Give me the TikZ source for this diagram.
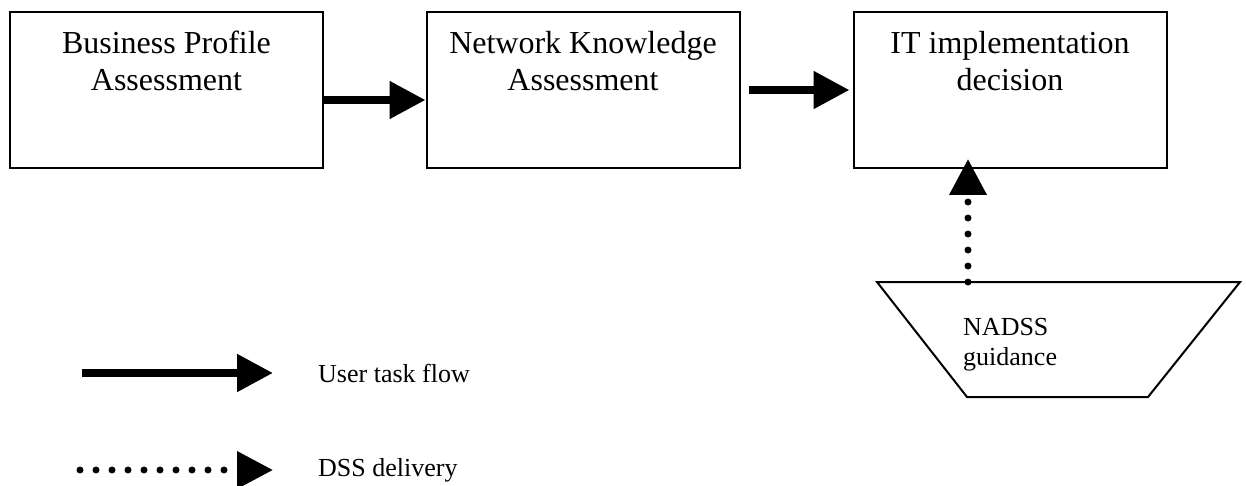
\documentclass[tikz,border=0pt]{standalone}
\usepackage{fontspec}
\setmainfont{Liberation Serif}
\usetikzlibrary{arrows.meta,positioning}

\begin{document}
\begin{tikzpicture}[x=1pt,y=-1pt,line join=miter,
	>={Triangle[length=36pt,width=36pt]},
	box/.style={draw,line width=2pt,minimum width=313pt,minimum height=156pt,inner sep=0pt},
	boxtext/.style={align=center,inner sep=0pt,font=\fontsize{32}{37}\selectfont},
	flow/.style={->,line width=8pt},
	dss/.style={->,line width=7pt,line cap=round,dash pattern=on 0pt off 16pt},
	small/.style={inner sep=0pt,font=\fontsize{26}{30}\selectfont}]
	\useasboundingbox (0,0) rectangle (1246,486);
	% the three task boxes
	\node[box] (bpa) at (166.5,90) {};
	\node[box] (nka) at (583,90) {};
	\node[box] (itd) at (1010,90) {};
	\node[boxtext,below=20pt of bpa.north] (bpatext) {Business Profile\\Assessment};
	\node[boxtext,below=20pt of nka.north] (nkatext) {Network Knowledge\\Assessment};
	\node[boxtext,below=20pt of itd.north] (itdtext) {IT implementation\\decision};
	\draw[flow] ([yshift=-10pt]bpa.east) -- ([yshift=-10pt]nka.west);
	\draw[flow,shorten <=8pt,shorten >=3pt] (nka.east) -- (itd.west);
	% guidance
	\draw[line width=2pt] (877,282) -- (1240,282) -- (1148,397) -- (967,397) -- cycle;
	\coordinate (ntop) at (968,282);
	\node[small,align=left,anchor=north west] (nadss) at (963,318) {NADSS\\guidance};
	\draw[dss] (ntop) -- ([yshift=10pt]itd.south -| ntop);
	% legend
	\coordinate (flowa) at (82,373);
	\coordinate (flowb) at (273,373);
	\coordinate (dssa) at (80,470);
	\coordinate (dssb) at (273,470);
	\draw[flow] (flowa) -- (flowb);
	\draw[dss] (dssa) -- (dssb);
	\node[small,anchor=west,right=45pt of flowb] (flowtext) {User task flow};
	\node[small,anchor=west,right=45pt of dssb] (dsstext) {DSS delivery};
\end{tikzpicture}
\end{document}
